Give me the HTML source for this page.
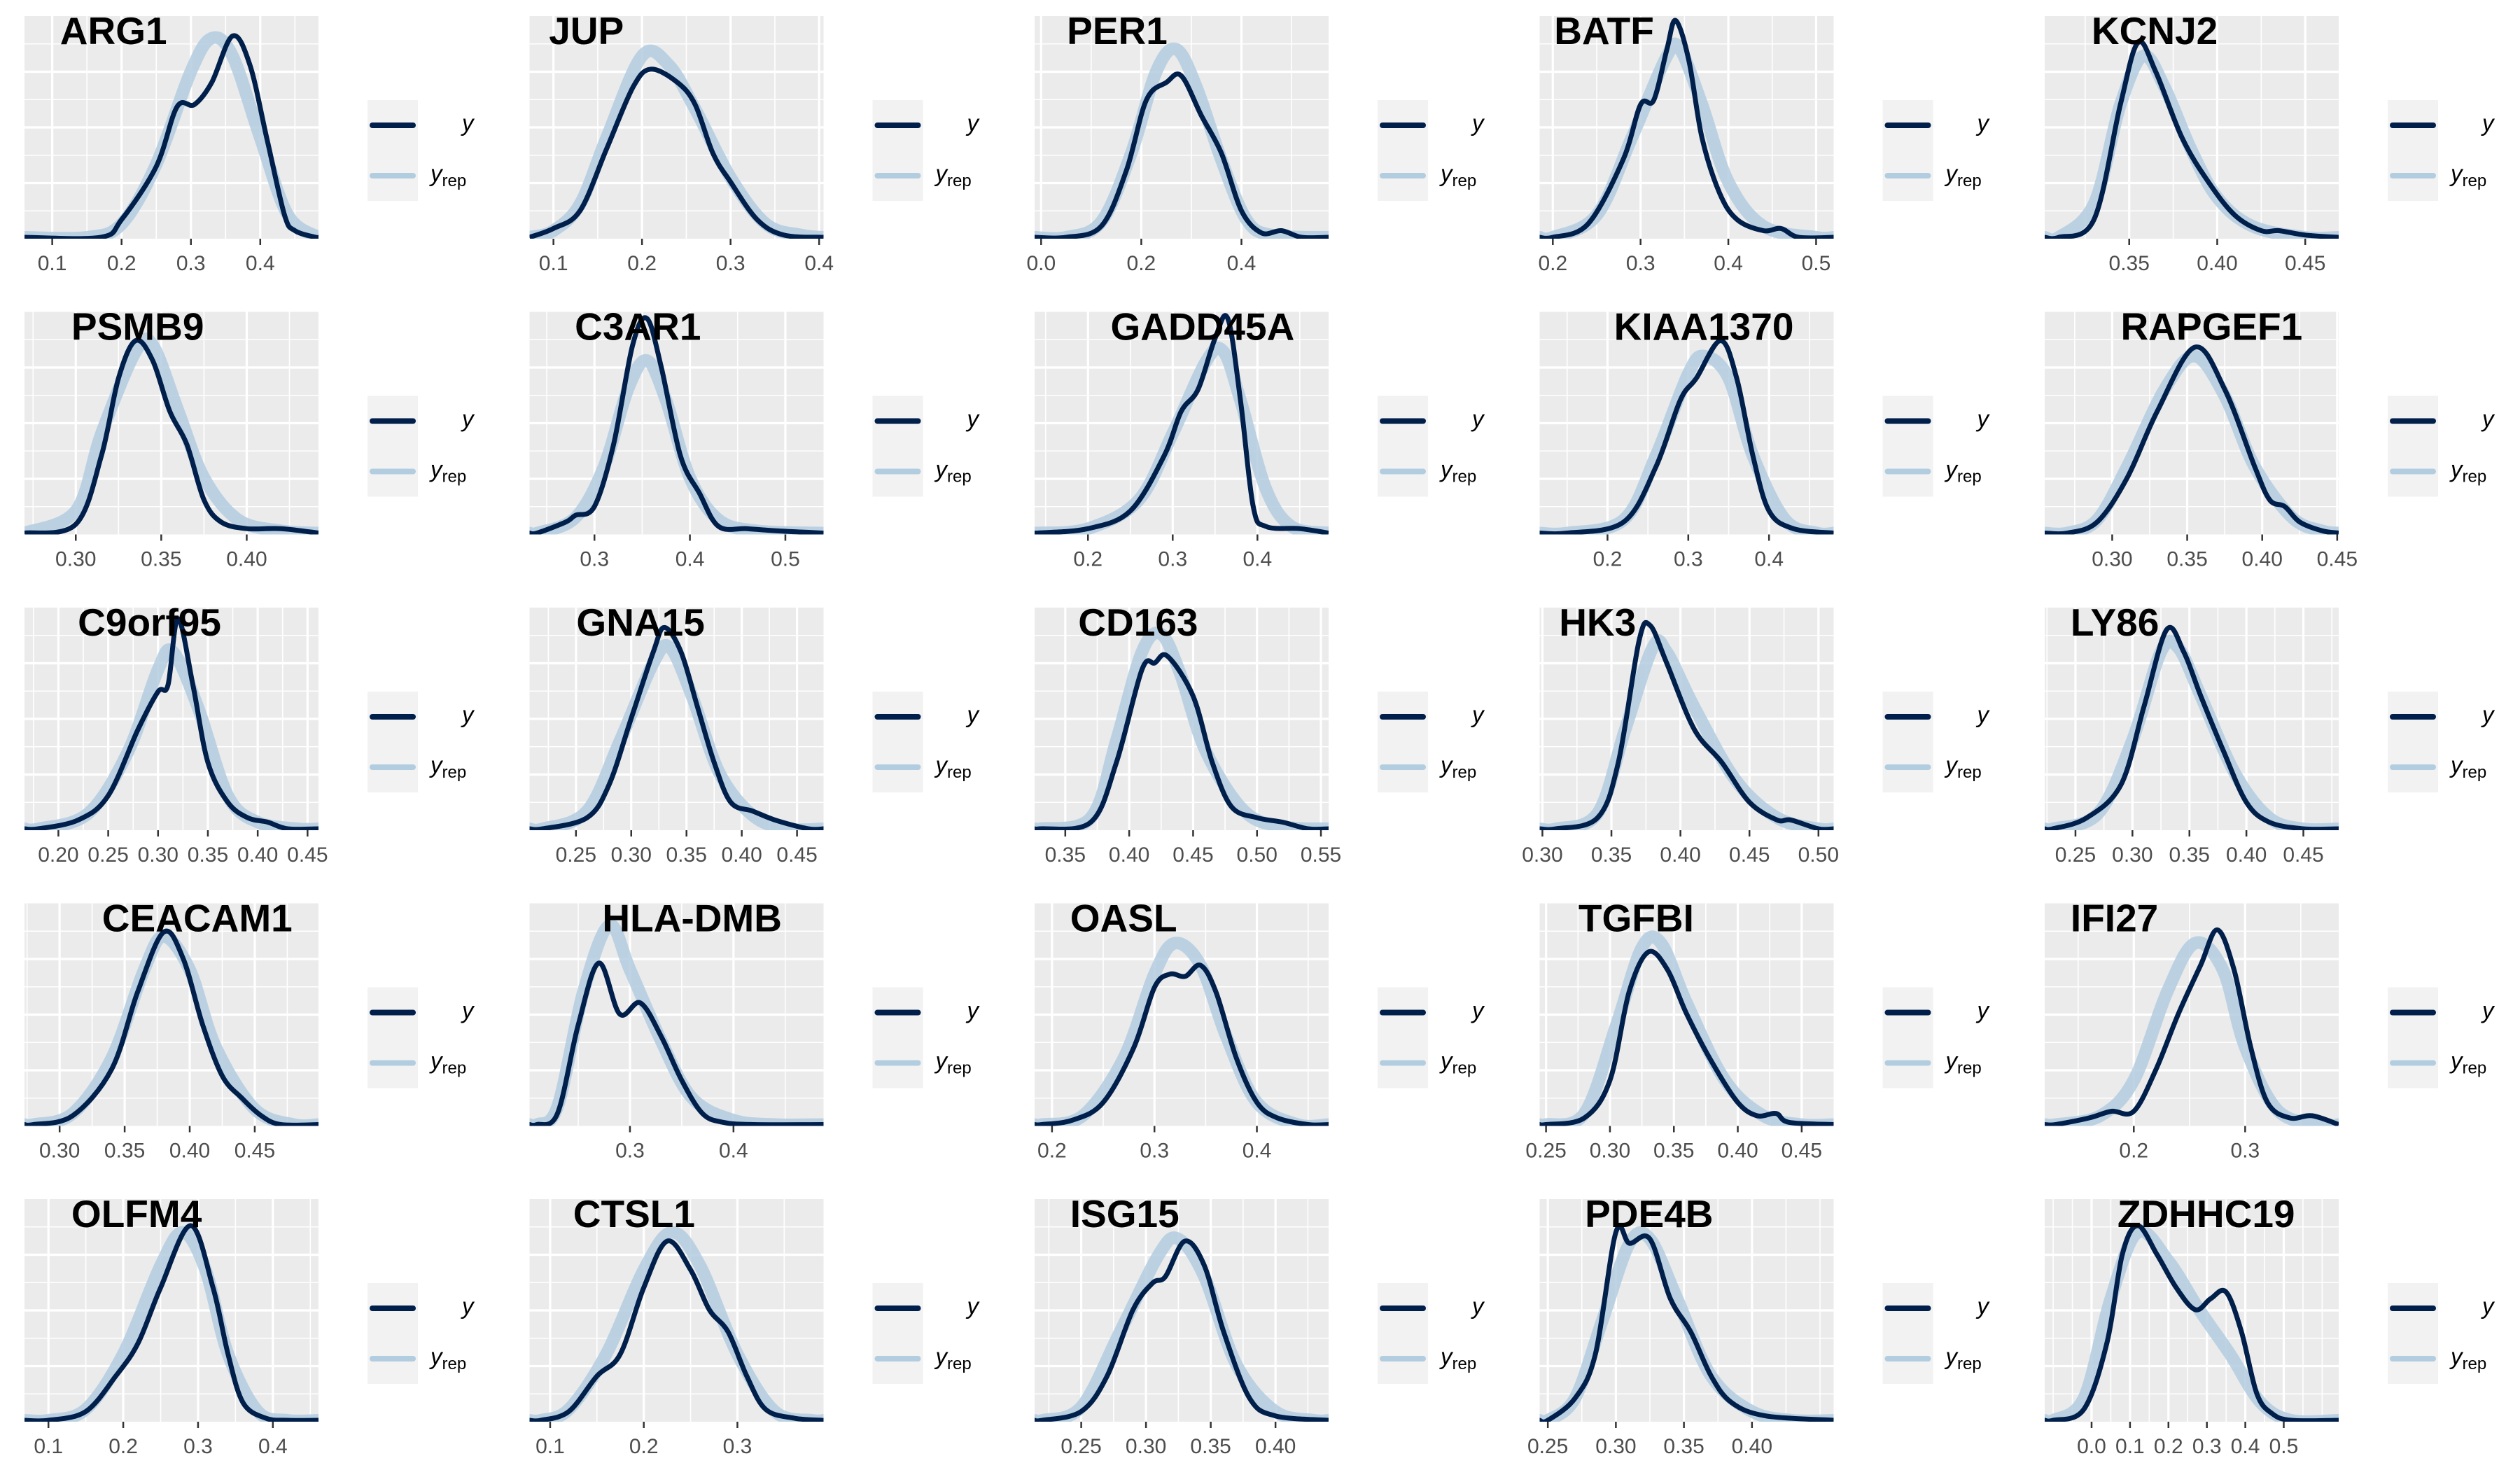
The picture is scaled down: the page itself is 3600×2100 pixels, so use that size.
<!DOCTYPE html>
<html><head><meta charset="utf-8"><style>
html,body{margin:0;padding:0;background:#fff;}
svg{display:block;}
</style></head><body>
<svg id="fig" width="3600" height="2100" xmlns="http://www.w3.org/2000/svg"></svg>
<script>
const genes = ["ARG1","JUP","PER1","BATF","KCNJ2","PSMB9","C3AR1","GADD45A","KIAA1370","RAPGEF1","C9orf95","GNA15","CD163","HK3","LY86","CEACAM1","HLA-DMB","OASL","TGFBI","IFI27","OLFM4","CTSL1","ISG15","PDE4B","ZDHHC19"];
const xlims = [[0.06,0.484],[0.073,0.405],[-0.013,0.574],[0.185,0.52],[0.302,0.469],
[0.27,0.442],[0.232,0.54],[0.137,0.484],[0.116,0.48],[0.255,0.451],
[0.166,0.461],[0.208,0.474],[0.326,0.556],[0.298,0.511],[0.223,0.481],
[0.273,0.499],[0.203,0.487],[0.183,0.47],[0.245,0.475],[0.12,0.384],
[0.068,0.461],[0.078,0.392],[0.214,0.441],[0.244,0.46],[-0.122,0.643]];
const tickLabels = [["0.1","0.2","0.3","0.4"],["0.1","0.2","0.3","0.4"],["0.0","0.2","0.4"],["0.2","0.3","0.4","0.5"],["0.35","0.40","0.45"],
["0.30","0.35","0.40"],["0.3","0.4","0.5"],["0.2","0.3","0.4"],["0.2","0.3","0.4"],["0.30","0.35","0.40","0.45"],
["0.20","0.25","0.30","0.35","0.40","0.45"],["0.25","0.30","0.35","0.40","0.45"],["0.35","0.40","0.45","0.50","0.55"],["0.30","0.35","0.40","0.45","0.50"],["0.25","0.30","0.35","0.40","0.45"],
["0.30","0.35","0.40","0.45"],["0.3","0.4"],["0.2","0.3","0.4"],["0.25","0.30","0.35","0.40","0.45"],["0.2","0.3"],
["0.1","0.2","0.3","0.4"],["0.1","0.2","0.3"],["0.25","0.30","0.35","0.40"],["0.25","0.30","0.35","0.40"],["0.0","0.1","0.2","0.3","0.4","0.5"]];
const titleOffsets = [22,12,20,9,29,29,28,47,46,47,33,29,27,12,16,48,45,22,24,16,29,27,22,28,45];
const yObs = [
[[0.17,0],[0.2,0.08],[0.25,0.32],[0.28,0.59],[0.305,0.6],[0.33,0.7],[0.36,0.91],[0.385,0.78],[0.41,0.44],[0.435,0.1],[0.45,0.03],[0.48,0]],
[[0.073,0],[0.1,0.04],[0.13,0.12],[0.16,0.4],[0.19,0.68],[0.21,0.76],[0.24,0.7],[0.26,0.6],[0.28,0.38],[0.3,0.25],[0.33,0.08],[0.36,0.01],[0.405,0]],
[[0.05,0],[0.12,0.05],[0.17,0.3],[0.21,0.62],[0.25,0.7],[0.28,0.73],[0.32,0.55],[0.36,0.38],[0.4,0.12],[0.44,0.02],[0.48,0.03],[0.52,0]],
[[0.2,0],[0.24,0.06],[0.28,0.35],[0.3,0.6],[0.315,0.62],[0.33,0.85],[0.34,0.98],[0.355,0.8],[0.37,0.45],[0.39,0.2],[0.41,0.08],[0.44,0.03],[0.46,0.04],[0.48,0]],
[[0.31,0],[0.33,0.08],[0.345,0.6],[0.355,0.88],[0.365,0.75],[0.38,0.45],[0.395,0.25],[0.41,0.1],[0.425,0.03],[0.435,0.03],[0.45,0.01],[0.469,0]],
[[0.27,0],[0.3,0.04],[0.315,0.35],[0.325,0.7],[0.335,0.87],[0.345,0.78],[0.355,0.55],[0.365,0.4],[0.375,0.15],[0.385,0.05],[0.4,0.02],[0.42,0.02],[0.442,0]],
[[0.24,0],[0.27,0.05],[0.28,0.08],[0.3,0.12],[0.32,0.4],[0.34,0.85],[0.355,0.97],[0.37,0.75],[0.39,0.35],[0.41,0.18],[0.43,0.03],[0.46,0.02],[0.49,0.01],[0.54,0]],
[[0.14,0],[0.2,0.02],[0.25,0.1],[0.29,0.35],[0.31,0.55],[0.33,0.65],[0.35,0.88],[0.365,0.97],[0.38,0.6],[0.395,0.12],[0.41,0.03],[0.45,0.02],[0.484,0]],
[[0.15,0],[0.22,0.05],[0.26,0.3],[0.29,0.6],[0.31,0.7],[0.34,0.87],[0.36,0.7],[0.38,0.35],[0.4,0.1],[0.43,0.02],[0.48,0]],
[[0.27,0],[0.29,0.05],[0.31,0.25],[0.33,0.55],[0.355,0.84],[0.375,0.65],[0.395,0.3],[0.405,0.15],[0.415,0.12],[0.425,0.05],[0.44,0.01],[0.451,0]],
[[0.18,0],[0.22,0.04],[0.25,0.15],[0.28,0.45],[0.3,0.62],[0.31,0.65],[0.32,0.95],[0.335,0.65],[0.35,0.3],[0.37,0.12],[0.39,0.05],[0.41,0.03],[0.43,0]],
[[0.22,0],[0.26,0.05],[0.28,0.2],[0.3,0.5],[0.32,0.8],[0.33,0.91],[0.345,0.8],[0.36,0.55],[0.375,0.3],[0.39,0.12],[0.41,0.08],[0.43,0.04],[0.46,0]],
[[0.33,0],[0.37,0.03],[0.39,0.3],[0.41,0.72],[0.42,0.75],[0.43,0.78],[0.45,0.6],[0.465,0.3],[0.48,0.1],[0.5,0.05],[0.52,0.03],[0.54,0]],
[[0.31,0],[0.34,0.05],[0.355,0.3],[0.37,0.85],[0.378,0.92],[0.39,0.75],[0.41,0.45],[0.43,0.3],[0.45,0.12],[0.47,0.04],[0.48,0.04],[0.5,0]],
[[0.23,0],[0.26,0.05],[0.29,0.2],[0.31,0.55],[0.33,0.9],[0.345,0.8],[0.36,0.6],[0.38,0.35],[0.4,0.12],[0.42,0.03],[0.45,0]],
[[0.28,0],[0.31,0.04],[0.34,0.25],[0.36,0.6],[0.38,0.87],[0.395,0.75],[0.41,0.45],[0.425,0.22],[0.44,0.12],[0.455,0.04],[0.47,0]],
[[0.21,0],[0.23,0.05],[0.25,0.45],[0.27,0.73],[0.29,0.5],[0.31,0.55],[0.33,0.4],[0.35,0.2],[0.37,0.05],[0.39,0.01],[0.42,0]],
[[0.19,0],[0.22,0.02],[0.25,0.1],[0.28,0.35],[0.3,0.62],[0.315,0.68],[0.33,0.67],[0.345,0.72],[0.36,0.6],[0.38,0.3],[0.4,0.1],[0.42,0.03],[0.45,0]],
[[0.25,0],[0.28,0.03],[0.3,0.2],[0.315,0.6],[0.33,0.78],[0.345,0.7],[0.36,0.5],[0.38,0.28],[0.4,0.1],[0.415,0.04],[0.43,0.05],[0.44,0.01],[0.475,0]],
[[0.13,0],[0.16,0.03],[0.18,0.06],[0.2,0.06],[0.22,0.25],[0.24,0.5],[0.26,0.72],[0.275,0.88],[0.29,0.7],[0.305,0.35],[0.32,0.1],[0.34,0.03],[0.36,0.04],[0.384,0]],
[[0.1,0],[0.15,0.04],[0.19,0.2],[0.22,0.35],[0.25,0.6],[0.29,0.88],[0.32,0.6],[0.34,0.3],[0.36,0.08],[0.39,0.01],[0.42,0]],
[[0.09,0],[0.12,0.04],[0.15,0.2],[0.175,0.3],[0.2,0.6],[0.225,0.81],[0.25,0.68],[0.27,0.5],[0.29,0.4],[0.31,0.2],[0.33,0.05],[0.36,0.01],[0.39,0]],
[[0.22,0],[0.25,0.04],[0.27,0.2],[0.29,0.5],[0.305,0.62],[0.315,0.65],[0.33,0.81],[0.345,0.7],[0.36,0.4],[0.38,0.1],[0.4,0.02],[0.441,0]],
[[0.25,0],[0.27,0.1],[0.285,0.3],[0.3,0.85],[0.31,0.8],[0.325,0.82],[0.34,0.55],[0.355,0.4],[0.37,0.2],[0.385,0.08],[0.41,0.02],[0.46,0]],
[[-0.1,0],[-0.02,0.05],[0.04,0.35],[0.08,0.75],[0.12,0.88],[0.17,0.75],[0.22,0.6],[0.27,0.5],[0.31,0.55],[0.35,0.58],[0.39,0.4],[0.43,0.12],[0.47,0.03],[0.52,0]]
];
const yRep = [
[[0.15,0],[0.2,0.06],[0.25,0.33],[0.3,0.75],[0.33,0.9],[0.36,0.82],[0.4,0.45],[0.44,0.1],[0.484,0.01]],
[[0.073,0],[0.1,0.03],[0.13,0.15],[0.16,0.45],[0.2,0.82],[0.23,0.78],[0.26,0.58],[0.3,0.27],[0.34,0.06],[0.38,0.01]],
[[0.05,0],[0.12,0.07],[0.18,0.38],[0.23,0.75],[0.27,0.85],[0.31,0.68],[0.36,0.35],[0.41,0.08],[0.46,0.01]],
[[0.2,0],[0.25,0.1],[0.29,0.45],[0.33,0.82],[0.345,0.85],[0.37,0.6],[0.4,0.25],[0.44,0.05],[0.5,0]],
[[0.31,0],[0.33,0.15],[0.345,0.6],[0.358,0.82],[0.37,0.68],[0.385,0.4],[0.4,0.18],[0.42,0.05],[0.45,0]],
[[0.27,0],[0.3,0.1],[0.315,0.45],[0.335,0.82],[0.345,0.85],[0.36,0.55],[0.375,0.25],[0.395,0.06],[0.42,0.01]],
[[0.24,0],[0.28,0.07],[0.31,0.3],[0.335,0.65],[0.355,0.78],[0.375,0.6],[0.4,0.25],[0.43,0.06],[0.47,0.01]],
[[0.14,0],[0.2,0.02],[0.26,0.15],[0.3,0.45],[0.34,0.78],[0.36,0.82],[0.38,0.6],[0.41,0.2],[0.44,0.03]],
[[0.15,0],[0.22,0.06],[0.26,0.35],[0.3,0.72],[0.32,0.8],[0.35,0.7],[0.38,0.35],[0.42,0.06],[0.46,0]],
[[0.27,0],[0.29,0.06],[0.31,0.3],[0.335,0.65],[0.355,0.8],[0.375,0.62],[0.395,0.3],[0.42,0.07],[0.44,0.01]],
[[0.18,0],[0.23,0.07],[0.27,0.35],[0.3,0.72],[0.315,0.8],[0.34,0.55],[0.37,0.15],[0.4,0.03],[0.44,0]],
[[0.22,0],[0.26,0.08],[0.29,0.4],[0.32,0.75],[0.335,0.82],[0.355,0.6],[0.38,0.25],[0.41,0.06],[0.44,0]],
[[0.33,0],[0.37,0.05],[0.39,0.4],[0.41,0.8],[0.425,0.88],[0.44,0.7],[0.46,0.35],[0.49,0.08],[0.52,0.01]],
[[0.31,0],[0.34,0.07],[0.36,0.45],[0.38,0.82],[0.39,0.8],[0.41,0.55],[0.44,0.22],[0.47,0.05],[0.5,0]],
[[0.23,0],[0.27,0.07],[0.3,0.4],[0.325,0.8],[0.34,0.82],[0.36,0.6],[0.39,0.25],[0.42,0.05],[0.45,0]],
[[0.28,0],[0.31,0.05],[0.34,0.3],[0.365,0.7],[0.38,0.85],[0.4,0.7],[0.42,0.35],[0.45,0.07],[0.48,0]],
[[0.21,0],[0.23,0.08],[0.255,0.6],[0.28,0.9],[0.3,0.7],[0.33,0.38],[0.36,0.12],[0.4,0.02],[0.44,0]],
[[0.19,0],[0.23,0.04],[0.27,0.3],[0.3,0.68],[0.32,0.82],[0.345,0.72],[0.37,0.4],[0.4,0.1],[0.44,0]],
[[0.25,0],[0.28,0.05],[0.305,0.45],[0.325,0.8],[0.34,0.82],[0.36,0.55],[0.39,0.2],[0.42,0.04],[0.45,0]],
[[0.13,0],[0.17,0.04],[0.2,0.2],[0.23,0.6],[0.255,0.82],[0.28,0.7],[0.3,0.35],[0.33,0.06],[0.37,0]],
[[0.1,0],[0.15,0.05],[0.2,0.3],[0.25,0.7],[0.28,0.85],[0.31,0.68],[0.34,0.3],[0.38,0.04],[0.42,0]],
[[0.09,0],[0.12,0.05],[0.16,0.3],[0.2,0.68],[0.23,0.85],[0.26,0.7],[0.3,0.3],[0.34,0.04],[0.38,0]],
[[0.22,0],[0.25,0.06],[0.28,0.4],[0.31,0.75],[0.325,0.82],[0.345,0.65],[0.37,0.25],[0.4,0.04],[0.43,0]],
[[0.25,0],[0.27,0.1],[0.29,0.45],[0.31,0.8],[0.325,0.82],[0.345,0.55],[0.37,0.2],[0.4,0.04],[0.43,0]],
[[-0.1,0],[-0.02,0.1],[0.05,0.55],[0.12,0.85],[0.2,0.72],[0.28,0.5],[0.36,0.3],[0.44,0.08],[0.52,0]]
];

const NS = "http://www.w3.org/2000/svg";
const svg = document.getElementById("fig");
const S = 3600/1560;
function mk(tag, attrs, parent){const e=document.createElementNS(NS,tag);for(const k in attrs)e.setAttribute(k,attrs[k]);(parent||svg).appendChild(e);return e;}
function smoothPath(pts){
  let d="M"+pts[0][0].toFixed(1)+","+pts[0][1].toFixed(1);
  for(let i=0;i<pts.length-1;i++){
    const p0=pts[Math.max(0,i-1)],p1=pts[i],p2=pts[i+1],p3=pts[Math.min(pts.length-1,i+2)];
    const c1x=p1[0]+(p2[0]-p0[0])/6,c1y=p1[1]+(p2[1]-p0[1])/6;
    const c2x=p2[0]-(p3[0]-p1[0])/6,c2y=p2[1]-(p3[1]-p1[1])/6;
    d+=" C"+c1x.toFixed(1)+","+c1y.toFixed(1)+" "+c2x.toFixed(1)+","+c2y.toFixed(1)+" "+p2[0].toFixed(1)+","+p2[1].toFixed(1);
  }
  return d;
}
const PW=420, PH=318;
genes.forEach((g,i)=>{
  const r=Math.floor(i/5), c=i%5;
  const L=35+c*721.5, T=23+r*422.5, B=T+PH;
  const [x0,x1]=xlims[i];
  const sx=v=>L+(v-x0)/(x1-x0)*PW;
  const sy=h=>B-2-h*(PH-2);
  const grp=mk("g",{});
  
  
  const bg=mk("rect",{x:L,y:T,width:PW,height:PH,fill:"#EBEBEB"},grp);
  
  
  for(let k=1;k<8;k++){
    mk("line",{x1:L,x2:L+PW,y1:B-k*PH/8,y2:B-k*PH/8,stroke:"#fff","stroke-width":k%2?1.6:3.2},grp);
  }
  const tv=tickLabels[i].map(Number);
  const step=tv.length>1?tv[1]-tv[0]:0.1;
  for(let v=tv[0]-step*3;v<=x1+step;v+=step/2){
    if(v<x0||v>x1) continue;
    const major=tv.some(t=>Math.abs(t-v)<1e-6);
    mk("line",{x1:sx(v),x2:sx(v),y1:T,y2:B,stroke:"#fff","stroke-width":major?3.2:1.6},grp);
  }
  const cp=mk("clipPath",{id:"cp"+i},grp);
  mk("rect",{x:L,y:T-40,width:PW,height:PH+40},cp);
  const repPts=[[x0,0],...yRep[i].filter(p=>p[0]>x0&&p[0]<x1),[x1,0]].map(p=>[sx(p[0]),sy(p[1])]);
  const rep=mk("path",{d:smoothPath(repPts),fill:"none",stroke:"#B3CDE0","stroke-width":18,"stroke-opacity":0.85,"stroke-linejoin":"round","clip-path":"url(#cp"+i+")"},grp);
  
  
  const obsPts=[[x0,0],...yObs[i].filter(p=>p[0]>x0&&p[0]<x1),[x1,0]].map(p=>[sx(p[0]),sy(p[1])]);
  const obs=mk("path",{d:smoothPath(obsPts),fill:"none",stroke:"#011F4B","stroke-width":7,"stroke-linejoin":"round","clip-path":"url(#cp"+i+")"},grp);
  
  
  tickLabels[i].forEach(t=>{
    const x=sx(Number(t));
    mk("line",{x1:x,x2:x,y1:B,y2:B+9,stroke:"#333","stroke-width":2.5},grp);
    const tx=mk("text",{x:x,y:B+45,"text-anchor":"middle","font-family":"Liberation Sans, sans-serif","font-size":30,fill:"#4D4D4D"},grp);
    tx.textContent=t;
    
    
  });
  const title=mk("text",{x:L+titleOffsets[i]*S,y:T+40,"font-family":"Liberation Sans, sans-serif","font-size":55,"font-weight":"bold",fill:"#000"},grp);
  title.textContent=g;
  
  
  const lx=L+490, ly=T+120;
  const lg=mk("g",{},grp);
  
  
  mk("rect",{x:lx,y:ly,width:72,height:72,fill:"#F2F2F2"},lg);
  mk("rect",{x:lx,y:ly+72,width:72,height:72,fill:"#F2F2F2"},lg);
  mk("line",{x1:lx+7,x2:lx+65,y1:ly+36,y2:ly+36,stroke:"#011F4B","stroke-width":8,"stroke-linecap":"round"},lg);
  mk("line",{x1:lx+7,x2:lx+65,y1:ly+108,y2:ly+108,stroke:"#B3CDE0","stroke-width":8,"stroke-linecap":"round"},lg);
  const t1=mk("text",{x:lx+135,y:ly+44,"font-family":"Liberation Sans, sans-serif","font-size":33,"font-style":"italic",fill:"#000"},lg);
  t1.textContent="y";
  
  
  const t2=mk("text",{x:lx+90,y:ly+116,"font-family":"Liberation Sans, sans-serif","font-size":33,"font-style":"italic",fill:"#000"},lg);
  t2.innerHTML='y<tspan font-style="normal" font-size="24" dy="7">rep</tspan>';
  
  
});
</script>
</body></html>
